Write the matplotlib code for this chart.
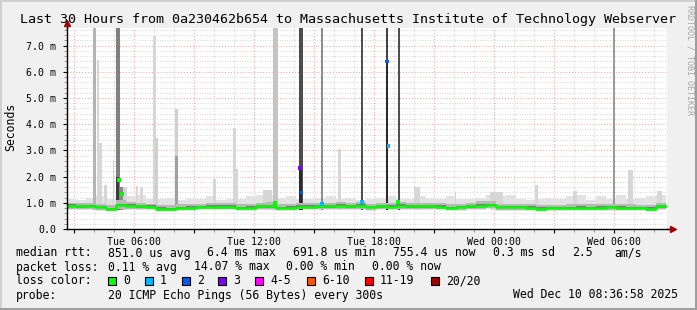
import numpy as np
import matplotlib.pyplot as plt
from matplotlib.patches import Rectangle
from matplotlib.ticker import MultipleLocator, FuncFormatter

plt.rcParams['font.family'] = ['DejaVu Sans Mono']

# time axis in hours since Tue 00:00, 30 min blocks
t_start = 2.6
block = 0.5

median_ms = [0.89, 0.86, 0.87, 0.83, 0.76, 0.90, 0.89, 0.86, 0.85, 0.78,
             0.77, 0.80, 0.81, 0.83, 0.85, 0.85, 0.85, 0.80, 0.81, 0.86,
             0.86, 0.80, 0.81, 0.85, 0.85, 0.86, 0.86, 0.89, 0.86, 0.89,
             0.83, 0.86, 0.85, 0.89, 0.86, 0.86, 0.86, 0.85, 0.80, 0.83,
             0.86, 0.89, 0.92, 0.83, 0.83, 0.83, 0.81, 0.78, 0.79, 0.79,
             0.80, 0.81, 0.80, 0.81, 0.83, 0.81, 0.80, 0.79, 0.78, 0.86]
smoke_hi = [1.15, 1.10, 1.20, 1.25, 1.15, 1.40, 1.25, 1.30, 1.15, 1.15,
            1.20, 1.10, 1.15, 1.15, 1.25, 1.10, 1.15, 1.15, 1.25, 1.30,
            1.30, 1.20, 1.25, 1.15, 1.15, 1.20, 1.25, 1.15, 1.20, 1.10,
            1.15, 1.20, 1.25, 1.15, 1.15, 1.25, 1.20, 1.15, 1.25, 1.15,
            1.15, 1.20, 1.30, 1.25, 1.30, 1.15, 1.10, 1.15, 1.20, 1.15,
            1.25, 1.30, 1.10, 1.25, 1.15, 1.30, 1.15, 1.20, 1.25, 1.30]
smoke_mid = [1.00, 0.98, 1.00, 0.97, 0.90, 1.10, 1.02, 0.98, 0.97, 0.92,
             0.92, 0.94, 0.95, 0.97, 0.98, 0.98, 0.98, 0.94, 0.95, 1.00,
             1.02, 0.95, 0.95, 0.98, 0.98, 1.00, 1.00, 1.02, 1.00, 1.02,
             0.97, 1.00, 0.98, 1.02, 1.00, 1.00, 1.00, 0.98, 0.94, 0.97,
             1.00, 1.05, 1.08, 0.97, 0.97, 0.97, 0.95, 0.92, 0.93, 0.93,
             0.94, 0.95, 0.94, 0.95, 0.97, 0.95, 0.94, 0.93, 0.92, 1.00]
smoke_lo = [0.74, 0.72, 0.73, 0.70, 0.66, 0.72, 0.74, 0.72, 0.71, 0.66,
            0.65, 0.68, 0.69, 0.71, 0.72, 0.72, 0.72, 0.68, 0.69, 0.72,
            0.72, 0.68, 0.69, 0.72, 0.72, 0.72, 0.73, 0.74, 0.72, 0.74,
            0.70, 0.72, 0.72, 0.74, 0.72, 0.72, 0.72, 0.71, 0.68, 0.70,
            0.72, 0.74, 0.76, 0.70, 0.70, 0.70, 0.69, 0.66, 0.67, 0.67,
            0.68, 0.69, 0.68, 0.69, 0.70, 0.69, 0.68, 0.67, 0.66, 0.72]

# spikes: start hour, end hour, top (ms), shade
spike_start = [3.95, 4.15, 4.20, 4.50, 4.95, 5.10, 5.30, 5.45, 6.10, 6.30,
               6.95, 7.05, 8.05, 9.95, 10.95, 11.10, 12.45, 12.95, 14.25, 15.35,
               16.20, 17.35, 18.60, 19.20, 20.00, 22.05, 23.80, 26.05, 27.95, 29.95,
               30.70, 32.15, 5.10, 8.05, 14.25, 18.60]
spike_end = [4.10, 4.25, 4.40, 4.65, 5.00, 5.30, 5.45, 5.65, 6.20, 6.45,
             7.10, 7.20, 8.20, 10.10, 11.10, 11.20, 12.90, 13.20, 14.45, 15.45,
             16.35, 17.45, 18.70, 19.30, 20.30, 22.10, 24.45, 26.20, 28.15, 30.05,
             30.95, 32.40, 5.25, 8.20, 14.40, 18.70]
spike_top = [9, 6.45, 3.28, 1.68, 2.63, 9, 1.60, 1.60, 1.65, 1.60,
             7.37, 3.47, 4.58, 1.90, 3.85, 2.30, 1.50, 9, 9, 9,
             3.05, 9, 9, 9, 1.60, 1.40, 1.40, 1.68, 1.45, 9,
             2.25, 1.45, 2.00, 2.80, 2.34, 6.39]
spike_shade = ['#b4b4b4', '#d6d6d6', '#d6d6d6', '#d6d6d6', '#d6d6d6', '#808080', '#8a8a8a', '#d6d6d6', '#d6d6d6', '#d6d6d6',
               '#d6d6d6', '#d0d0d0', '#d0d0d0', '#d6d6d6', '#d6d6d6', '#d6d6d6', '#d6d6d6', '#c4c4c4', '#4c4c4c', '#8c8c8c',
               '#d6d6d6', '#505050', '#444444', '#505050', '#d6d6d6', '#d6d6d6', '#d6d6d6', '#d6d6d6', '#d6d6d6', '#9a9a9a',
               '#d6d6d6', '#d6d6d6', '#3c3c3c', '#a0a0a0', '#2a2a2a', '#2a2a2a']

# single median samples with loss colour
pt_hour = [5.25, 5.40, 13.05, 14.30, 14.38, 15.40, 17.40, 18.65, 18.72, 19.20]
pt_ms = [1.87, 1.34, 1.00, 2.34, 1.39, 0.95, 1.04, 6.39, 3.17, 1.03]
pt_color = ['#00ff00', '#00ff00', '#00ff00', '#7e00ff', '#0059ff', '#00b8ff', '#00b8ff', '#0059ff', '#00b8ff', '#00ff00']

tick_hours = [6, 12, 18, 24, 30]
tick_labels = ['Tue 06:00', 'Tue 12:00', 'Tue 18:00', 'Wed 00:00', 'Wed 06:00']

loss_labels = ['0', '1', '2', '3', '4-5', '6-10', '11-19', '20/20']
loss_colors = ['#00ff00', '#00b8ff', '#0059ff', '#7e00ff', '#ff00ff', '#ff5500', '#ff0000', '#a10000']

W, H = 697, 310
fig = plt.figure(figsize=(W / 100, H / 100), dpi=100, facecolor='#f0f0f0')

def px(x, y):
    return x / W, 1 - y / H

# rrdtool style frame
fig.patches.append(Rectangle((0, 0), 1, 1, transform=fig.transFigure, fill=False,
                             ec='#cfcfcf', lw=2))
fig.patches.append(Rectangle((0, 0), 1, 2 / H, transform=fig.transFigure, color='#9e9e9e', lw=0))
fig.patches.append(Rectangle((1 - 2 / W, 0), 2 / W, 1, transform=fig.transFigure, color='#9e9e9e', lw=0))

x0, x1, ytop, ybot = 67, 667, 28, 229
ax = fig.add_axes([x0 / W, 1 - ybot / H, (x1 - x0) / W, (ybot - ytop) / H])
ax.set_facecolor('white')
ymax = (ybot - ytop) / 26.2
ax.set_xlim(t_start + 0.05, t_start + 30.05)
ax.set_ylim(0, ymax)

edges = t_start + block * np.arange(len(median_ms) + 1)
med = np.array(median_ms)

def stepv(a):
    a = np.asarray(a, dtype=float)
    return np.append(a, a[-1])

ax.fill_between(edges, stepv(smoke_lo), stepv(smoke_hi), step='post', color='#e2e2e2', lw=0, zorder=2)
for s, e, top, c in zip(spike_start, spike_end, spike_top, spike_shade):
    ax.bar(s, top - 0.72, width=e - s, bottom=0.72, align='edge', color=c, lw=0, zorder=3)
ax.fill_between(edges, stepv(smoke_lo) + 0.04, stepv(smoke_mid), step='post', color='#b8b8b8', lw=0, zorder=4)
ax.fill_between(edges, stepv(med - 0.04), stepv(med + 0.05), step='post', color='#7c7c7c', lw=0, zorder=5)
ax.step(edges, stepv(med), where='post', color='#00ff00', lw=1.8, zorder=6)
ax.scatter(pt_hour, pt_ms, s=7, marker='s', c=pt_color, lw=0, zorder=7)

# grid
ax.xaxis.set_major_locator(MultipleLocator(3))
ax.xaxis.set_minor_locator(MultipleLocator(1))
ax.yaxis.set_major_locator(MultipleLocator(1))
ax.yaxis.set_minor_locator(MultipleLocator(0.2))
ax.grid(which='minor', color='#c8c8c8', ls=(0, (1, 2)), lw=0.6, zorder=1)
ax.grid(which='major', color='#e8a0a0', ls=(0, (1, 2)), lw=0.7, zorder=1)
ax.set_axisbelow(True)

ax.xaxis.set_major_formatter(FuncFormatter(
    lambda v, p: tick_labels[tick_hours.index(int(round(v)))] if int(round(v)) in tick_hours else ''))
ax.yaxis.set_major_formatter(FuncFormatter(lambda v, p: '0.0' if abs(v) < 1e-9 else '%.1f m' % v))
ax.tick_params(which='major', length=3, width=0.8, labelsize=7.1, pad=3, colors='#000000')
ax.tick_params(which='minor', length=2, width=0.6, color='#888888')
ax.tick_params(axis='y', pad=5)

for sp in ['top', 'right']:
    ax.spines[sp].set_visible(False)
for sp in ['left', 'bottom']:
    ax.spines[sp].set_color('#000000')
    ax.spines[sp].set_linewidth(1)
    ax.spines[sp].set_zorder(8)

# axis arrows
ax.plot([1, 1.008], [0, 0], transform=ax.transAxes, color='black', lw=1, clip_on=False)
ax.plot([1.01], [0], transform=ax.transAxes, marker='>', ms=5, color='#a00000', clip_on=False, zorder=9)
ax.plot([0, 0], [1, 1.02], transform=ax.transAxes, color='black', lw=1, clip_on=False)
ax.plot([0], [1.025], transform=ax.transAxes, marker='^', ms=5, color='#a00000', clip_on=False, zorder=9)

fig.text(*px(348, 19), 'Last 30 Hours from 0a230462b654 to Massachusetts Institute of Technology Webserver',
         ha='center', va='center', fontsize=9.6)
fig.text(*px(11, 127), 'Seconds', rotation=90, ha='center', va='center', fontsize=8.3)
fig.text(*px(690, 60), 'RRDTOOL / TOBI OETIKER', rotation=270, ha='center', va='center',
         fontsize=6, color='#a8a8a8')

fs = 8.3
rows = [
    (253, [(16, 'median rtt:'), (108, '851.0 us avg'), (207, '6.4 ms max'), (293, '691.8 us min'),
           (393, '755.4 us now'), (493, '0.3 ms sd'), (572, '2.5'), (614, 'am/s')]),
    (267, [(16, 'packet loss:'), (108, '0.11 % avg'), (194, '14.07 % max'), (286, '0.00 % min'),
           (372, '0.00 % now')]),
    (281, [(16, 'loss color:')]),
    (295, [(16, 'probe:'), (108, '20 ICMP Echo Pings (56 Bytes) every 300s'),
           (513, 'Wed Dec 10 08:36:58 2025')]),
]
for y, items in rows:
    for x, s in items:
        fig.text(*px(x, y), s, ha='left', va='center', fontsize=fs)

box_x = [108, 145, 182, 218, 255, 307, 365, 431]
for bx, lab, c in zip(box_x, loss_labels, loss_colors):
    fig.patches.append(Rectangle(px(bx, 285), 8 / W, 8 / H, transform=fig.transFigure,
                                 fc=c, ec='black', lw=0.8))
    fig.text(*px(bx + 15, 281), lab, ha='left', va='center', fontsize=fs)

fig.savefig('out.png', dpi=100, facecolor=fig.get_facecolor())
